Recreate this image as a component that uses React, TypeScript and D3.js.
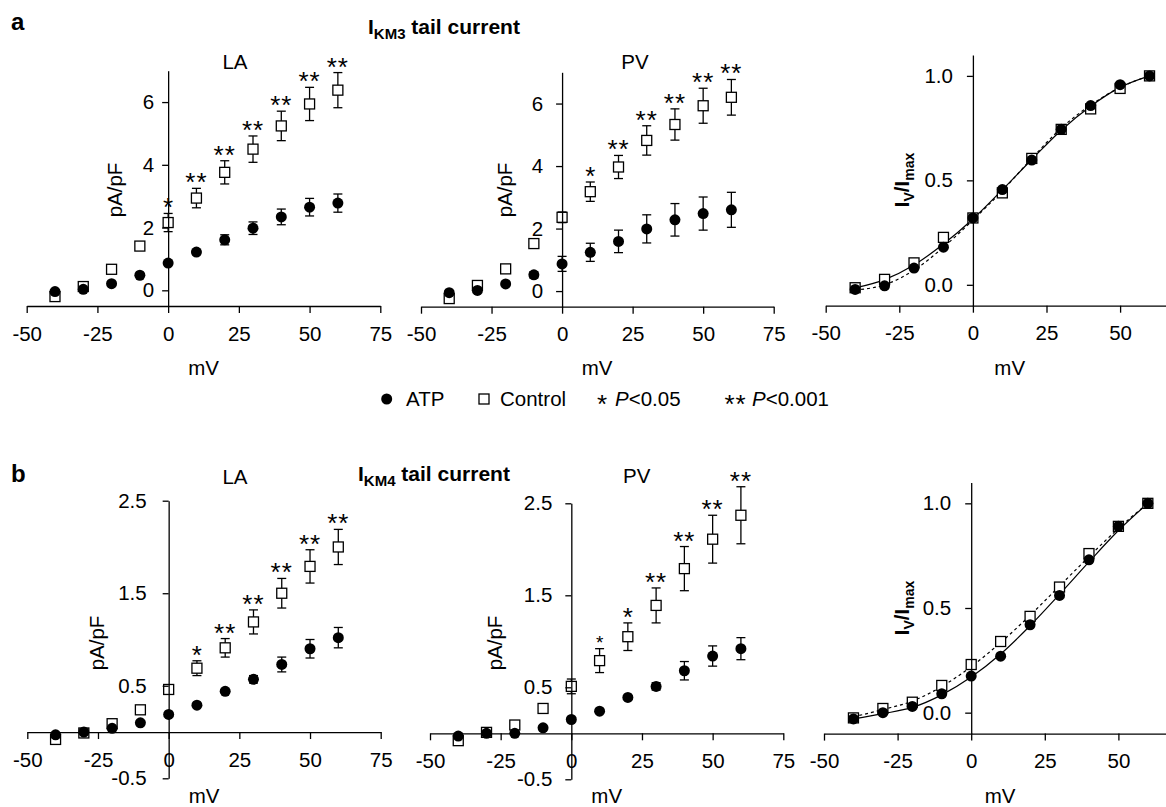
import { useEffect, useRef } from "react";
import * as d3 from "d3";

// voltages (mV) shared by every panel
const voltages = [-40, -30, -20, -10, 0, 10, 20, 30, 40, 50, 60];

// a: IKM3 tail current
const aLaControl = [-0.2, 0.12, 0.67, 1.41, 2.16, 2.94, 3.76, 4.5, 5.24, 5.94, 6.38];
const aLaControlErr = [0, 0, 0, 0.05, 0.29, 0.31, 0.37, 0.42, 0.47, 0.53, 0.56];
const aLaAtp = [-0.04, 0.03, 0.21, 0.48, 0.87, 1.22, 1.61, 1.98, 2.34, 2.65, 2.78];
const aLaAtpErr = [0, 0, 0, 0, 0.05, 0.06, 0.16, 0.2, 0.25, 0.28, 0.29];
const aLaSig = ["", "", "", "", "*", "**", "**", "**", "**", "**", "**"];

const aPvControl = [-0.24, 0.18, 0.71, 1.52, 2.36, 3.18, 3.97, 4.82, 5.33, 5.93, 6.2];
const aPvControlErr = [0, 0, 0, 0.05, 0.17, 0.31, 0.37, 0.47, 0.5, 0.56, 0.57];
const aPvAtp = [-0.05, 0.02, 0.23, 0.52, 0.87, 1.24, 1.59, 1.99, 2.28, 2.48, 2.6];
const aPvAtpErr = [0, 0, 0, 0.1, 0.24, 0.29, 0.36, 0.45, 0.52, 0.53, 0.56];
const aPvSig = ["", "", "", "", "", "*", "**", "**", "**", "**", "**"];

const aNormAtp = [-0.022, -0.005, 0.08, 0.18, 0.32, 0.456, 0.597, 0.744, 0.858, 0.958, 1.0];
const aNormControl = [-0.014, 0.026, 0.105, 0.227, 0.32, 0.44, 0.605, 0.744, 0.842, 0.94, 1.0];
const aFitSolid = [-0.015, 0.025, 0.095, 0.195, 0.315, 0.455, 0.6, 0.74, 0.855, 0.945, 1.0];
const aFitDashed = [-0.025, 0.0, 0.07, 0.18, 0.31, 0.45, 0.605, 0.75, 0.86, 0.945, 1.0];

// b: IKM4 tail current
const bLaControl = [-0.08, -0.01, 0.09, 0.24, 0.46, 0.69, 0.91, 1.19, 1.5, 1.79, 2.0];
const bLaControlErr = [0, 0, 0, 0, 0.02, 0.08, 0.1, 0.13, 0.16, 0.18, 0.19];
const bLaAtp = [-0.03, 0.0, 0.04, 0.1, 0.19, 0.29, 0.44, 0.57, 0.73, 0.9, 1.02];
const bLaAtpErr = [0, 0, 0, 0, 0, 0, 0.02, 0.04, 0.08, 0.1, 0.11];
const bLaSig = ["", "", "", "", "", "*", "**", "**", "**", "**", "**"];

const bPvControl = [-0.08, 0.01, 0.09, 0.27, 0.51, 0.79, 1.05, 1.39, 1.79, 2.11, 2.37];
const bPvControlErr = [0, 0, 0, 0, 0.08, 0.13, 0.15, 0.19, 0.24, 0.26, 0.31];
const bPvAtp = [-0.03, 0.0, 0.0, 0.06, 0.15, 0.24, 0.39, 0.51, 0.68, 0.84, 0.92];
const bPvAtpErr = [0, 0, 0, 0, 0, 0, 0, 0.04, 0.1, 0.11, 0.12];
const bPvSig = ["", "", "", "", "", "*", "*", "**", "**", "**", "**"];

const bNormAtp = [-0.03, 0.0, 0.03, 0.09, 0.175, 0.27, 0.42, 0.56, 0.73, 0.89, 1.0];
const bNormControl = [-0.025, 0.02, 0.05, 0.13, 0.23, 0.34, 0.46, 0.6, 0.76, 0.89, 1.0];
const bFitSolid = [-0.03, -0.005, 0.025, 0.085, 0.17, 0.28, 0.415, 0.565, 0.72, 0.87, 1.0];
const bFitDashed = [-0.02, 0.015, 0.055, 0.125, 0.22, 0.335, 0.465, 0.605, 0.745, 0.88, 1.0];

const xTicks = [-50, -25, 0, 25, 50, 75];
const xTicksNorm = [-50, -25, 0, 25, 50];
const currentTicksA = [0, 2, 4, 6];
const currentTicksB = [-0.5, 0.5, 1.5, 2.5];
const normTicks = [0, 0.5, 1.0];

const FONT = "'Liberation Sans', Arial, Helvetica, sans-serif";
const FS = 20.5;

const panels = [
  {
    xr: [26.7, 380.3], yDom: [-0.5, 7], yr: [306, 70.7], yTicks: currentTicksA, fmt: "d",
    xAt: -0.5, gap: 14, title: "LA", tx: 235, ty: 69, ylab: "pA/pF", lx: 115, ly: 190, mx: 203.5, my: 375,
    control: aLaControl, controlErr: aLaControlErr, atp: aLaAtp, atpErr: aLaAtpErr, sig: aLaSig,
  },
  {
    xr: [421, 773.7], yDom: [-0.5, 7], yr: [306.7, 72.3], yTicks: currentTicksA, fmt: "d",
    xAt: -0.5, gap: 19, title: "PV", tx: 635, ty: 69, ylab: "pA/pF", lx: 505, ly: 190, mx: 597, my: 375,
    control: aPvControl, controlErr: aPvControlErr, atp: aPvAtp, atpErr: aPvAtpErr, sig: aPvSig,
  },
  {
    xr: [825.7, 1193.7], yDom: [-0.1, 1.1], yr: [305.7, 55], yTicks: normTicks, fmt: ".1f",
    xAt: -0.1, gap: 20, norm: true, lx: 901.7, ly: 180, mx: 1009.7, my: 375,
    control: aNormControl, atp: aNormAtp, fitSolid: aFitSolid, fitDashed: aFitDashed,
  },
  {
    xr: [27.3, 380.7], yDom: [-0.5, 2.5], yr: [778.3, 500.7], yTicks: currentTicksB, fmt: ".1f",
    xAt: 0, gap: 22, title: "LA", tx: 235, ty: 484, ylab: "pA/pF", lx: 96.7, ly: 643, mx: 204, my: 803,
    control: bLaControl, controlErr: bLaControlErr, atp: bLaAtp, atpErr: bLaAtpErr, sig: bLaSig,
  },
  {
    xr: [430, 783.3], yDom: [-0.5, 2.5], yr: [779.3, 503.3], yTicks: currentTicksB, fmt: ".1f",
    xAt: 0, gap: 19, title: "PV", tx: 636.7, ty: 483, ylab: "pA/pF", lx: 495, ly: 643, mx: 606.7, my: 803,
    control: bPvControl, controlErr: bPvControlErr, atp: bPvAtp, atpErr: bPvAtpErr, sig: bPvSig, smallFirst: true,
  },
  {
    xr: [824, 1192], yDom: [-0.1, 1.1], yr: [733.6, 482.4], yTicks: normTicks, fmt: ".1f",
    xAt: -0.1, gap: 20, norm: true, lx: 901.7, ly: 608, mx: 1000, my: 803,
    control: bNormControl, atp: bNormAtp, fitSolid: bFitSolid, fitDashed: bFitDashed,
  },
];

// plain hyphen minus like the original figure
const fmtHyphen = (spec: string) => {
  const f = d3.format(spec);
  return (d: any) => f(d).replace("\u2212", "-");
};

export default function App() {
  const ref = useRef<SVGSVGElement>(null);

  useEffect(() => {
    const svg = d3.select(ref.current);
    svg.selectAll("*").remove();

    panels.forEach((p: any) => {
      const x = d3.scaleLinear().domain([-50, 75]).range(p.xr);
      const y = d3.scaleLinear().domain(p.yDom).range(p.yr);
      const g = svg.append("g");

      // error bars
      const drawErr = (vals: number[], errs: number[]) => {
        vals.forEach((v, i) => {
          const e = errs ? errs[i] : 0;
          if (!e) return;
          const cx = x(voltages[i]);
          g.append("line").attr("x1", cx).attr("x2", cx).attr("y1", y(v - e)).attr("y2", y(v + e))
            .attr("stroke", "#000").attr("stroke-width", 1.3);
          [v - e, v + e].forEach((yy) =>
            g.append("line").attr("x1", cx - 4.5).attr("x2", cx + 4.5).attr("y1", y(yy)).attr("y2", y(yy))
              .attr("stroke", "#000").attr("stroke-width", 1.3));
        });
      };
      drawErr(p.control, p.controlErr);
      drawErr(p.atp, p.atpErr);

      // fitted curves (normalized panels)
      if (p.norm) {
        const line = d3.line<number>().x((_, i) => x(voltages[i])).y((d) => y(d)).curve(d3.curveMonotoneX);
        g.append("path").attr("d", line(p.fitDashed)).attr("fill", "none").attr("stroke", "#000")
          .attr("stroke-width", 1.2).attr("stroke-dasharray", "3,3");
        g.append("path").attr("d", line(p.fitSolid)).attr("fill", "none").attr("stroke", "#000")
          .attr("stroke-width", 1.2);
      }

      // control squares
      g.selectAll(".sq").data(p.control).enter().append("rect")
        .attr("x", (_: any, i: number) => x(voltages[i]) - 5)
        .attr("y", (d: number) => y(d) - 5)
        .attr("width", 10).attr("height", 10)
        .attr("fill", "#fff").attr("stroke", "#000").attr("stroke-width", 1.3);

      // ATP circles
      g.selectAll(".ci").data(p.atp).enter().append("circle")
        .attr("cx", (_: any, i: number) => x(voltages[i]))
        .attr("cy", (d: number) => y(d))
        .attr("r", 5.5).attr("fill", "#000");

      // significance stars
      if (p.sig) {
        p.sig.forEach((s: string, i: number) => {
          if (!s) return;
          const top = y(p.control[i] + (p.controlErr[i] || 0));
          const small = p.smallFirst && i === 5;
          g.append("text").attr("x", x(voltages[i])).attr("y", top + (small ? 0 : 3))
            .attr("text-anchor", "middle").attr("font-family", FONT)
            .attr("font-size", small ? 19 : 26).attr("letter-spacing", s.length > 1 ? 1 : 0)
            .text(s);
        });
      }

      // axes
      const xAxis = d3.axisBottom(x).tickValues(p.norm ? xTicksNorm : xTicks).tickSize(7).tickSizeOuter(0)
        .tickPadding(13).tickFormat(fmtHyphen("d"));
      const gx = g.append("g").attr("transform", `translate(0,${y(p.xAt)})`).call(xAxis);
      const yAxis = d3.axisLeft(y).tickValues(p.yTicks).tickSize(6).tickSizeOuter(0)
        .tickPadding(p.gap - 6).tickFormat(fmtHyphen(p.fmt));
      const gy = g.append("g").attr("transform", `translate(${x(0)},0)`).call(yAxis);
      [gx, gy].forEach((ax) => {
        ax.attr("font-family", FONT).attr("font-size", FS);
        ax.selectAll("path, line").attr("stroke", "#000").attr("stroke-width", 1.3);
        ax.selectAll("text").attr("fill", "#000");
      });

      // titles & labels
      if (p.title) {
        g.append("text").attr("x", p.tx).attr("y", p.ty).attr("text-anchor", "middle")
          .attr("font-family", FONT).attr("font-size", FS).text(p.title);
      }
      const yl = g.append("text").attr("transform", `translate(${p.lx},${p.ly}) rotate(-90)`)
        .attr("text-anchor", "middle").attr("dy", "0.35em").attr("font-family", FONT).attr("font-size", FS);
      if (p.norm) {
        yl.attr("font-weight", "bold");
        yl.append("tspan").text("I");
        yl.append("tspan").attr("font-size", 14).attr("dy", 5).text("V");
        yl.append("tspan").attr("dy", -5).text("/I");
        yl.append("tspan").attr("font-size", 14).attr("dy", 5).text("max");
      } else {
        yl.text(p.ylab);
      }
      g.append("text").attr("x", p.mx).attr("y", p.my).attr("text-anchor", "middle")
        .attr("font-family", FONT).attr("font-size", FS).text("mV");
    });

    // panel letters and titles
    const heads = [
      { letter: "a", ly: 30, tx: 368, ty: 34, sub: "KM3" },
      { letter: "b", ly: 482, tx: 358, ty: 481, sub: "KM4" },
    ];
    heads.forEach((h) => {
      svg.append("text").attr("x", 11).attr("y", h.ly).attr("font-family", FONT)
        .attr("font-weight", "bold").attr("font-size", 24).text(h.letter);
      const t = svg.append("text").attr("x", h.tx).attr("y", h.ty).attr("font-family", FONT)
        .attr("font-weight", "bold").attr("font-size", 21);
      t.append("tspan").text("I");
      t.append("tspan").attr("font-size", 15).attr("dy", 5).text(h.sub);
      t.append("tspan").attr("dy", -5).text(" tail current");
    });

    // legend
    const lg = svg.append("g").attr("font-family", FONT).attr("font-size", FS);
    lg.append("circle").attr("cx", 386.7).attr("cy", 399).attr("r", 5.5).attr("fill", "#000");
    lg.append("text").attr("x", 406).attr("y", 406).text("ATP");
    lg.append("rect").attr("x", 479).attr("y", 394).attr("width", 10).attr("height", 10)
      .attr("fill", "#fff").attr("stroke", "#000").attr("stroke-width", 1.3);
    lg.append("text").attr("x", 500).attr("y", 406).text("Control");
    lg.append("text").attr("x", 602).attr("y", 413).attr("text-anchor", "middle").attr("font-size", 26).text("*");
    const p1 = lg.append("text").attr("x", 615).attr("y", 406);
    p1.append("tspan").attr("font-style", "italic").text("P");
    p1.append("tspan").text("<0.05");
    lg.append("text").attr("x", 735.5).attr("y", 413).attr("text-anchor", "middle").attr("font-size", 26)
      .attr("letter-spacing", 1).text("**");
    const p2 = lg.append("text").attr("x", 752).attr("y", 406);
    p2.append("tspan").attr("font-style", "italic").text("P");
    p2.append("tspan").text("<0.001");
  }, []);

  return (
    <svg
      ref={ref}
      width={1166}
      height={807}
      style={{ position: "absolute", left: 0, top: 0, background: "#fff" }}
    />
  );
}
